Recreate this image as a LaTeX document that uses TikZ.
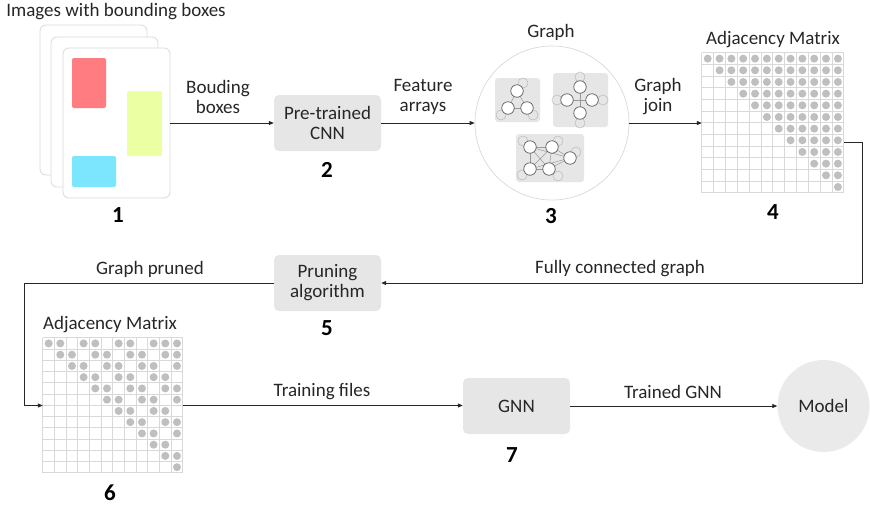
\documentclass[tikz,border=0pt]{standalone}
\usepackage{fontspec}
\setmainfont{Carlito}
\usetikzlibrary{arrows.meta,positioning,calc}
\definecolor{gnnink}{HTML}{262626}
\definecolor{gnnbox}{HTML}{E6E6E6}
\definecolor{gnnline}{HTML}{D9D9D9}
\definecolor{gnndot}{HTML}{BFBFBF}
\definecolor{gnnred}{HTML}{FF7C80}
\definecolor{gnnlime}{HTML}{EBFFA3}
\definecolor{gnncyan}{HTML}{7DE6FF}
\tikzset{
  txt/.style={font=\fontsize{19}{20}\selectfont, text=gnnink, align=center, inner sep=0pt},
  num/.style={font=\fontsize{23}{26}\selectfont\bfseries, text=black, inner sep=0pt},
  stage/.style={txt, fill=gnnbox, rounded corners=5pt, minimum width=107pt, minimum height=56pt},
  sheet/.style={draw=gnnline, fill=white, rounded corners=6pt, minimum width=107pt, minimum height=150pt, line width=0.8pt},
  bbox/.style={rounded corners=2pt, inner sep=0pt},
  panel/.style={fill=gnnbox, rounded corners=3pt},
  gnode/.style={circle, draw=gnnink!75, fill=white, minimum size=12.5pt, inner sep=0pt, line width=0.7pt},
  ghost/.style={circle, draw=gnnline!85!black, minimum size=10pt, inner sep=0pt, line width=0.5pt},
  gedge/.style={draw=gray!80, line width=0.5pt},
  arr/.style={-{Triangle[length=5pt,width=4pt]}, line width=0.8pt, draw=gnnink},
  cellline/.style={draw=gnnline, line width=0.7pt},
  mdot/.style={fill=gnndot},
  matbox/.style={inner sep=0pt},
}

\begin{document}
\begin{tikzpicture}[x=1pt, y=-1pt]
  \useasboundingbox (0,0) rectangle (870,507);

  % stage 1: stack of images
  \node[txt] (t1) at (116,12) {Images with bounding boxes};
  \node[sheet] (s3) at (93.5,100) {};
  \node[sheet] (s2) at (104.5,112) {};
  \node[sheet] (s1) at (116.5,123) {};
  \node[bbox, fill=gnnred, minimum width=34pt, minimum height=50pt] (b1) at (89,83) {};
  \node[bbox, fill=gnnlime, minimum width=35pt, minimum height=65pt] (b2) at (144.5,123.5) {};
  \node[bbox, fill=gnncyan, minimum width=44pt, minimum height=31pt] (b3) at (94,171.5) {};
  \node[num] (n1) at (118,215) {1};

  % stage 2: CNN
  \node[stage] (cnn) at (327.5,123) {Pre-trained\\CNN};
  \node[num] (n2) at (327,170) {2};

  % stage 3: graph
  \node[txt] (t3) at (551,32) {Graph};
  \node[circle, draw=gnnline, fill=white, minimum size=154pt, line width=0.7pt] (graph) at (552,123) {};
  \node[num] (n3) at (551,216) {3};
  \fill[panel] (495,78) rectangle (540,122);
  \fill[panel] (553,73) rectangle (608,127);
  \fill[panel] (516,134) rectangle (584,182);
  \foreach \p/\q in {523/83, 501/115, 533/115, 580/77, 557/100, 603/100, 580/123,
                     523/141, 558/141, 576/152, 522/175, 558/176}
    \node[ghost] at (\p,\q) {};
  \coordinate (a1) at (517,91);
  \coordinate (a2) at (508,108);
  \coordinate (a3) at (527,108);
  \coordinate (g1) at (580,87);
  \coordinate (g2) at (567,100);
  \coordinate (g3) at (592,100);
  \coordinate (g4) at (580,113);
  \coordinate (c1) at (530,147);
  \coordinate (c2) at (552,147);
  \coordinate (c3) at (570,158);
  \coordinate (c4) at (530,169);
  \coordinate (c5) at (549,169);
  \foreach \a/\b in {a1/a2,a1/a3,a2/a3,g1/g4,g2/g3,c1/c2,c1/c4,c2/c5,c4/c5,c1/c5,c2/c4,c2/c3,c5/c3,c1/c3,c4/c3}
    \draw[gedge] (\a) -- (\b);
  \foreach \v in {a1,a2,a3,g1,g2,g3,g4,c1,c2,c3,c4,c5}
    \node[gnode] at (\v) {};

  % stage 4: full adjacency matrix
  \node[txt] (t4) at (773,40) {Adjacency Matrix};
  \node[matbox, minimum width=142pt, minimum height=140pt] (m4) at (773,123) {};
  \begin{scope}[shift={(m4.north west)}]
    \foreach \i in {0,...,12} {
      \draw[cellline] (\i*11.833,0) -- (\i*11.833,140);
      \draw[cellline] (0,\i*11.667) -- (142,\i*11.667);
    }
    \foreach \r in {0,...,11}
      \foreach \c in {\r,...,11}
        \fill[mdot] ({(\c+0.5)*11.833},{(\r+0.5)*11.667}) circle (4pt);
  \end{scope}
  \node[num] (n4) at (773,212) {4};

  % stage 5: pruning
  \node[stage] (prune) at (327.5,283) {Pruning\\algorithm};
  \node[num] (n5) at (327,328) {5};

  % stage 6: pruned adjacency matrix
  \node[txt] (t6) at (110,325) {Adjacency Matrix};
  \node[matbox, minimum width=140pt, minimum height=135pt] (m6) at (113,405.5) {};
  \begin{scope}[shift={(m6.north west)}]
    \foreach \i in {0,...,12} {
      \draw[cellline] (\i*11.667,0) -- (\i*11.667,135);
      \draw[cellline] (0,\i*11.25) -- (140,\i*11.25);
    }
    \foreach \r/\cols in {0/{0,1,3,4,6,7,9,10,11}, 1/{1,2,4,5,7,8,10,11}, 2/{2,3,5,6,8,9,11},
                          3/{3,4,6,7,9,10}, 4/{4,5,7,8,10,11}, 5/{5,6,8,9,11}, 6/{6,7,9,10},
                          7/{7,8,10,11}, 8/{8,9,11}, 9/{9,10}, 10/{10,11}, 11/{11}}
      \foreach \c in \cols
        \fill[mdot] ({(\c+0.5)*11.667},{(\r+0.5)*11.25}) circle (4pt);
  \end{scope}
  \node[num] (n6) at (110,493) {6};

  % stage 7: GNN and model
  \node[stage] (gnn) at (516.5,406) {GNN};
  \node[num] (n7) at (512,455) {7};
  \node[circle, fill=gnnbox!85!white, minimum size=92pt, inner sep=0pt, txt] (model) at (823.5,406) {Model};

  % connectors
  \coordinate (j4) at ($(m4.north east)+(0,90)$);
  \coordinate (turn1) at (862,283);
  \coordinate (turn2) at (24,283);
  \draw[arr] (s1.east) -- (cnn.west);
  \draw[arr] (cnn.east) -- (graph.west);
  \draw[arr] (graph.east) -- (m4.west);
  \draw[arr] (j4) -| (turn1) -- (prune.east);
  \draw[arr] (prune.west) -- (turn2) |- (m6.west);
  \draw[arr] (m6.east) -- (gnn.west |- m6.east);
  \draw[arr] (gnn.east) -- (model.west);

  % connector labels
  \node[txt] (l1) at (218,97) {Bouding\\boxes};
  \node[txt] (l2) at (423,97) {Feature\\arrays};
  \node[txt] (l3) at (658,97) {Graph\\join};
  \node[txt] (l4) at (620,269) {Fully connected graph};
  \node[txt] (l5) at (150,269) {Graph pruned};
  \node[txt] (l6) at (322,392) {Training files};
  \node[txt] (l7) at (673,392) {Trained GNN};
\end{tikzpicture}
\end{document}
